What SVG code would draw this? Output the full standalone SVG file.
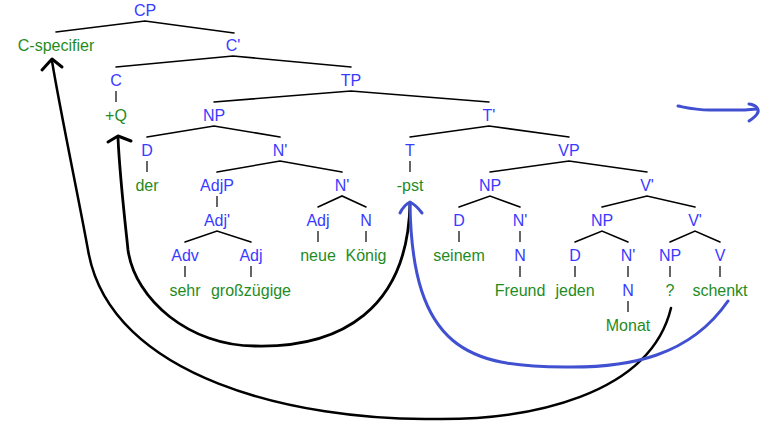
<svg xmlns="http://www.w3.org/2000/svg" width="774" height="430" viewBox="0 0 774 430">
<style>
text{font-family:"Liberation Sans",Arial,sans-serif;font-size:16px;text-anchor:middle}
.c{fill:#3a3aff}
.w{fill:#1f8c1f}
.br{stroke:#000;stroke-width:1.6;fill:none;stroke-linecap:round}
.v{stroke:#000;stroke-width:1.2;fill:none}
.mv{fill:none;stroke-linecap:round;stroke-linejoin:round}
</style>
<rect width="774" height="430" fill="#fff"/>
<g id="connectors">
<path class="br" d="M56,32 L145,21 L234,33"/>
<path class="br" d="M116,67 L233,56 L351,67"/>
<path class="br" d="M214,102 L351,91 L489,102"/>
<path class="br" d="M147,137 L214,126 L280,137"/>
<path class="br" d="M410,137 L489,126 L569,137"/>
<path class="br" d="M217,172 L280,161 L342,172"/>
<path class="br" d="M490,172 L569,161 L647,172"/>
<path class="br" d="M318,207 L342,196 L366,207"/>
<path class="br" d="M459,207 L490,196 L520,207"/>
<path class="br" d="M602,207 L647,196 L695,207"/>
<path class="br" d="M185,242 L217,231 L251,242"/>
<path class="br" d="M575,242 L602,231 L628,242"/>
<path class="br" d="M670,242 L695,231 L720,242"/>
<path class="v" d="M116,91V102M147,161V172M410,161V172M217,196V207M318,231V242M366,231V242M459,231V242M520,231V242M185,266V277M251,266V277M520,266V277M575,266V277M628,266V277M670,266V277M720,266V277M628,301V312"/>
</g>
<g id="movements">
<path class="mv" stroke="#000" stroke-width="2.5" d="M671,308 C650,395 530,421 430,419 C300,420 110,380 88,250 C80,205 60,110 52,61"/>
<path class="mv" stroke="#000" stroke-width="3" d="M42,70 L52,59 L62,67"/>
<path class="mv" stroke="#000" stroke-width="2.8" d="M410,203 C408,310 340,348 255,346 C190,346 135,300 128,250 C126,230 120,180 118,138"/>
<path class="mv" stroke="#000" stroke-width="3" d="M108,142 L118,136 L131,141"/>
<path class="mv" stroke="#4050d0" stroke-width="3" d="M728,301 C690,356 630,368 565,367 C470,367 412,350 410,204"/>
<path class="mv" stroke="#4050d0" stroke-width="3" d="M400,213 Q404,205 410,202 Q416,205 422,213"/>
<path class="mv" stroke="#4050d0" stroke-width="3" d="M678,106 C688,108 695,110 710,110 L740,110 C748,110 752,109 757,109"/>
<path class="mv" stroke="#4050d0" stroke-width="3" d="M749,104 C757,105 760,110 757,114 C755,117 752,119 749,121"/>
</g>
<g id="n-CP"><text class="c" x="145" y="16">CP</text></g>
<g id="n-Cspec"><text class="w" x="56" y="51">C-specifier</text></g>
<g id="n-Cbar"><text class="c" x="233" y="51">C'</text></g>
<g id="n-C"><text class="c" x="116" y="86">C</text></g>
<g id="n-TP"><text class="c" x="351" y="86">TP</text></g>
<g id="n-Q"><text class="w" x="116" y="121">+Q</text></g>
<g id="n-NP1"><text class="c" x="214" y="121">NP</text></g>
<g id="n-Tbar"><text class="c" x="489" y="121">T'</text></g>
<g id="n-D1"><text class="c" x="147" y="156">D</text></g>
<g id="n-Nbar1"><text class="c" x="280" y="156">N'</text></g>
<g id="n-T"><text class="c" x="410" y="156">T</text></g>
<g id="n-VP"><text class="c" x="569" y="156">VP</text></g>
<g id="n-der"><text class="w" x="147" y="191">der</text></g>
<g id="n-AdjP"><text class="c" x="217" y="191">AdjP</text></g>
<g id="n-Nbar2"><text class="c" x="342" y="191">N'</text></g>
<g id="n-pst"><text class="w" x="410" y="191">-pst</text></g>
<g id="n-NP2"><text class="c" x="490" y="191">NP</text></g>
<g id="n-Vbar1"><text class="c" x="647" y="191">V'</text></g>
<g id="n-Adjbar"><text class="c" x="217" y="226">Adj'</text></g>
<g id="n-Adj1"><text class="c" x="318" y="226">Adj</text></g>
<g id="n-N1"><text class="c" x="366" y="226">N</text></g>
<g id="n-D2"><text class="c" x="459" y="226">D</text></g>
<g id="n-Nbar3"><text class="c" x="520" y="226">N'</text></g>
<g id="n-NP3"><text class="c" x="602" y="226">NP</text></g>
<g id="n-Vbar2"><text class="c" x="695" y="226">V'</text></g>
<g id="n-Adv"><text class="c" x="185" y="261">Adv</text></g>
<g id="n-Adj2"><text class="c" x="251" y="261">Adj</text></g>
<g id="n-neue"><text class="w" x="318" y="261">neue</text></g>
<g id="n-Koenig"><text class="w" x="366" y="261">König</text></g>
<g id="n-seinem"><text class="w" x="459" y="261">seinem</text></g>
<g id="n-N2"><text class="c" x="520" y="261">N</text></g>
<g id="n-D3"><text class="c" x="575" y="261">D</text></g>
<g id="n-Nbar4"><text class="c" x="628" y="261">N'</text></g>
<g id="n-NP4"><text class="c" x="670" y="261">NP</text></g>
<g id="n-V"><text class="c" x="720" y="261">V</text></g>
<g id="n-sehr"><text class="w" x="185" y="296">sehr</text></g>
<g id="n-gross"><text class="w" x="251" y="296">großzügige</text></g>
<g id="n-Freund"><text class="w" x="520" y="296">Freund</text></g>
<g id="n-jeden"><text class="w" x="575" y="296">jeden</text></g>
<g id="n-N3"><text class="c" x="628" y="296">N</text></g>
<g id="n-q"><text class="w" x="670" y="296">?</text></g>
<g id="n-schenkt"><text class="w" x="720" y="296">schenkt</text></g>
<g id="n-Monat"><text class="w" x="628" y="331">Monat</text></g>
</svg>
